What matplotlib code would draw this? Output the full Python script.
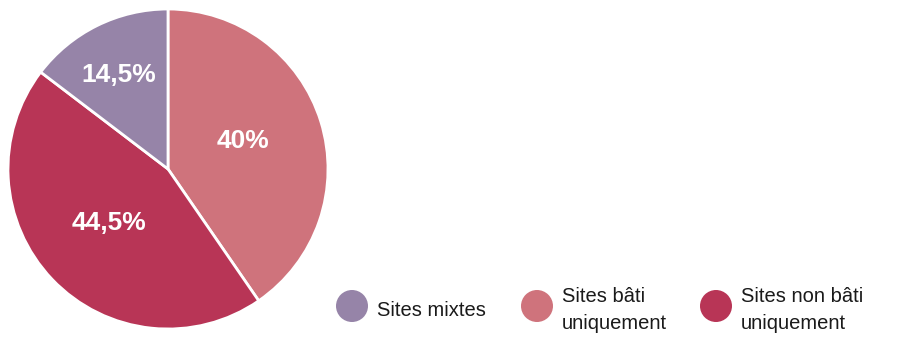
import matplotlib
matplotlib.use("Agg")
import matplotlib.pyplot as plt
from matplotlib.patches import Circle

# data
categories = ["Sites bâti\nuniquement", "Sites non bâti\nuniquement", "Sites mixtes"]
shares = [40, 44.5, 14.5]
colors = ["#cf737c", "#b83556", "#9684a8"]
legend_order = [2, 0, 1]

plt.rcParams["font.family"] = ["Liberation Sans", "DejaVu Sans"]

W, H = 902, 338
fig = plt.figure(figsize=(W / 100, H / 100), dpi=100)

# pie
ax = fig.add_axes([8 / W, 9 / H, 320 / W, 320 / H])
wedges, texts = ax.pie(shares, colors=colors, startangle=90, counterclock=False,
                       wedgeprops=dict(edgecolor="white", linewidth=2))
ax.set_aspect("equal")
ax.set_xlim(-1, 1)
ax.set_ylim(-1, 1)

label_pos = [(0.47, 0.175), (-0.37, -0.34), (-0.31, 0.59)]
for v, (x, y) in zip(shares, label_pos):
    ax.text(x, y, f"{v:g}%".replace(".", ","), ha="center", va="center",
            color="white", fontsize=19, fontweight="bold")

# legend in pixel coordinates
lax = fig.add_axes([0, 0, 1, 1])
lax.set_xlim(0, W)
lax.set_ylim(H, 0)
lax.axis("off")
legend_x = [352, 537, 716]
for x, i in zip(legend_x, legend_order):
    lax.add_patch(Circle((x, 306), 16, color=colors[i], lw=0))
    lax.text(x + 25, 310, categories[i], ha="left", va="center",
             fontsize=14.5, linespacing=1.5, color="#1a1a1a")

fig.savefig("out.png", dpi=100, facecolor="white")
